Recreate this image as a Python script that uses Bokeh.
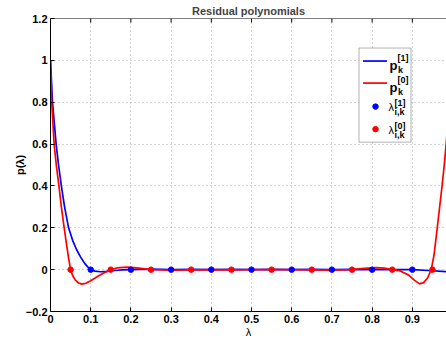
from bokeh.plotting import figure
from bokeh.models import FixedTicker, BoxAnnotation, Range1d, Span
from bokeh.core.properties import value
from bokeh.embed import file_html
from bokeh.resources import INLINE

# ---------------- data ----------------
title_text = "Residual polynomials"
x_ticks = [0, 0.1, 0.2, 0.3, 0.4, 0.5, 0.6, 0.7, 0.8, 0.9, 1.0]
x_tick_labels = ["0", "0.1", "0.2", "0.3", "0.4", "0.5", "0.6", "0.7", "0.8", "0.9", "1"]
y_ticks = [-0.2, 0, 0.2, 0.4, 0.6, 0.8, 1.0, 1.2]
y_tick_labels = ["\u22120.2", "0", "0.2", "0.4", "0.6", "0.8", "1", "1.2"]

# residual polynomial p_k^[1] (blue)
lam_blue = [0, 0.0025, 0.005, 0.0095, 0.014, 0.02, 0.027, 0.035, 0.045, 0.055,
            0.065, 0.075, 0.085, 0.095, 0.1, 0.11, 0.125, 0.14, 0.16, 0.18,
            0.2, 0.25, 0.3, 0.35, 0.4, 0.45, 0.5, 0.55, 0.6, 0.65,
            0.7, 0.75, 0.8, 0.85, 0.9, 0.94, 0.985]
p_blue = [1.0, 0.9, 0.8, 0.7, 0.6, 0.5, 0.4, 0.3, 0.2, 0.14,
          0.095, 0.06, 0.03, 0.008, 0.0, -0.007, -0.01, -0.008, -0.004, -0.001,
          0.0, 0.002, 0.0, 0.001, 0.0, 0.001, 0.0, 0.001, 0.0, 0.001,
          0.0, 0.001, 0.0, 0.0, 0.0, -0.004, -0.01]

# residual polynomial p_k^[0] (red)
lam_red = [0, 0.0015, 0.003, 0.006, 0.009, 0.015, 0.021, 0.027, 0.034, 0.04,
           0.045, 0.05, 0.055, 0.062, 0.07, 0.078, 0.088, 0.1, 0.116, 0.13,
           0.15, 0.165, 0.19, 0.215, 0.25, 0.3, 0.35, 0.4, 0.45, 0.5,
           0.55, 0.6, 0.65, 0.7, 0.75, 0.78, 0.81, 0.83, 0.85, 0.87,
           0.89, 0.905, 0.918, 0.928, 0.938, 0.947, 0.954, 0.962, 0.968, 0.974,
           0.98, 0.985, 0.99]
p_red = [1.0, 0.9, 0.8, 0.7, 0.6, 0.49, 0.4, 0.3, 0.2, 0.12,
         0.055, 0.0, -0.028, -0.05, -0.064, -0.069, -0.065, -0.053, -0.034, -0.018,
         0.0, 0.008, 0.012, 0.008, 0.0, -0.003, -0.001, 0.0, -0.001, 0.0,
         0.0, 0.0, -0.001, -0.002, 0.0, 0.006, 0.01, 0.007, 0.0, -0.006,
         -0.025, -0.05, -0.068, -0.062, -0.04, 0.0, 0.07, 0.2, 0.3, 0.4,
         0.51, 0.62, 0.74]

# roots lambda_{i,k}
roots_1 = [0.1, 0.2, 0.3, 0.4, 0.5, 0.6, 0.7, 0.8, 0.9]
roots_1_val = [0, 0, 0, 0, 0, 0, 0, 0, 0]
roots_0 = [0.05, 0.15, 0.25, 0.35, 0.45, 0.55, 0.65, 0.75, 0.85, 0.95]
roots_0_val = [0, 0, 0, 0, 0, 0, 0, 0, 0, 0]

# ---------------- styling ----------------
FONT = "Liberation Sans"
BLUE = "#0000ff"
RED = "#ff0000"
Y_MIN, Y_MAX = -0.2, 1.2

p = figure(width=446, height=340, output_backend="svg", toolbar_location=None,
           x_range=Range1d(0, 0.985), y_range=Range1d(Y_MIN, Y_MAX),
           title=title_text,
           min_border_left=50, min_border_right=0, min_border_top=18, min_border_bottom=0,
           background_fill_color="white", border_fill_color="white",
           outline_line_color=None)

p.title.text_font = FONT
p.title.text_font_size = "11px"
p.title.text_font_style = "bold"
p.title.align = "center"
p.title.standoff = 4

for ax in (p.xaxis[0], p.yaxis[0]):
    ax.major_tick_in = 4
    ax.major_tick_out = 0
    ax.minor_tick_line_color = None
    ax.axis_line_color = "black"
    ax.major_tick_line_color = "black"
    ax.major_label_text_font = FONT
    ax.major_label_text_font_size = "11px"
    ax.major_label_text_font_style = "bold"
    ax.major_label_text_color = "black"
    ax.axis_label_text_font = FONT
    ax.axis_label_text_font_size = "11px"
    ax.axis_label_text_color = "black"

p.xaxis[0].ticker = FixedTicker(ticks=x_ticks)
p.xaxis[0].major_label_overrides = {t: l for t, l in zip(x_ticks, x_tick_labels)}
p.xaxis[0].major_label_standoff = 3
p.xaxis[0].axis_label = "\u03bb"
p.xaxis[0].axis_label_text_font_style = "normal"
p.xaxis[0].axis_label_standoff = 0

p.yaxis[0].ticker = FixedTicker(ticks=y_ticks)
p.yaxis[0].major_label_overrides = {t: l for t, l in zip(y_ticks, y_tick_labels)}
p.yaxis[0].major_label_standoff = 3
p.yaxis[0].axis_label = "p(\u03bb)"
p.yaxis[0].axis_label_text_font_style = "bold"
p.yaxis[0].axis_label_standoff = -3

p.xgrid.ticker = FixedTicker(ticks=x_ticks)
p.ygrid.ticker = FixedTicker(ticks=y_ticks)
for g in (p.xgrid, p.ygrid):
    g.grid_line_color = "#a8a8a8"
    g.grid_line_dash = "1 3"
    g.grid_line_width = 1

# top box edge with inward ticks (MATLAB "box on")
p.add_layout(Span(location=Y_MAX, dimension="width", line_color="black", line_width=1))
TICK_LEN = 4 / 209.0 * (Y_MAX - Y_MIN) / 1.4
p.segment(x0=x_ticks, y0=[Y_MAX] * len(x_ticks), x1=x_ticks,
          y1=[Y_MAX - TICK_LEN] * len(x_ticks), line_color="black", line_width=1)

# ---------------- marks ----------------
p.line(lam_blue, p_blue, line_color=BLUE, line_width=1.7)
p.line(lam_red, p_red, line_color=RED, line_width=1.7)
p.scatter(roots_1, roots_1_val, size=5.5, fill_color=BLUE, line_color=BLUE)
p.scatter(roots_0, roots_0_val, size=5.5, fill_color=RED, line_color=RED)

# ---------------- legend (manual, pixel positions converted to data) ----------------
def dx(px):
    return (px - 50) / 402.0

def dy(py):
    return 1.2 - (py - 18) / 209.0

box = BoxAnnotation(left=dx(358.5), right=dx(410.5), top=dy(47.5), bottom=dy(141.5),
                    fill_color="white", fill_alpha=1.0, line_color="black", line_width=1,
                    level="annotation")
p.add_layout(box)

LV = "overlay"
p.line([dx(362.5), dx(386.5)], [dy(60.5), dy(60.5)], line_color=BLUE, line_width=1.7, level=LV)
p.line([dx(362.5), dx(386.5)], [dy(82.5), dy(82.5)], line_color=RED, line_width=1.7, level=LV)
p.scatter([dx(375)], [dy(106)], size=5.5, fill_color=BLUE, line_color=BLUE, level=LV)
p.scatter([dx(375)], [dy(128.5)], size=5.5, fill_color=RED, line_color=RED, level=LV)

# main symbols
p.text([dx(389), dx(389)], [dy(64.5), dy(86.5)], text=["p", "p"],
       text_font=value(FONT), text_font_size="13px", text_font_style="bold",
       text_baseline="alphabetic", text_align="left", text_color="black", level=LV)
p.text([dx(388), dx(388)], [dy(106.5), dy(129)], text=["\u03bb", "\u03bb"],
       text_font=value(FONT), text_font_size="11px", text_font_style="normal",
       text_baseline="alphabetic", text_align="left", text_color="black", level=LV)
# superscripts
p.text([dx(397), dx(397), dx(394), dx(394)], [dy(57), dy(79), dy(102.5), dy(125)],
       text=["[1]", "[0]", "[1]", "[0]"],
       text_font=value(FONT), text_font_size="9px", text_font_style="bold",
       text_baseline="alphabetic", text_align="left", text_color="black", level=LV)
# subscripts
p.text([dx(397.5), dx(397.5), dx(394), dx(394)], [dy(69), dy(91), dy(111.5), dy(134.5)],
       text=["k", "k", "i,k", "i,k"],
       text_font=value(FONT), text_font_size="9px", text_font_style="bold",
       text_baseline="alphabetic", text_align="left", text_color="black", level=LV)

open("out.html", "w").write(file_html(p, INLINE))
